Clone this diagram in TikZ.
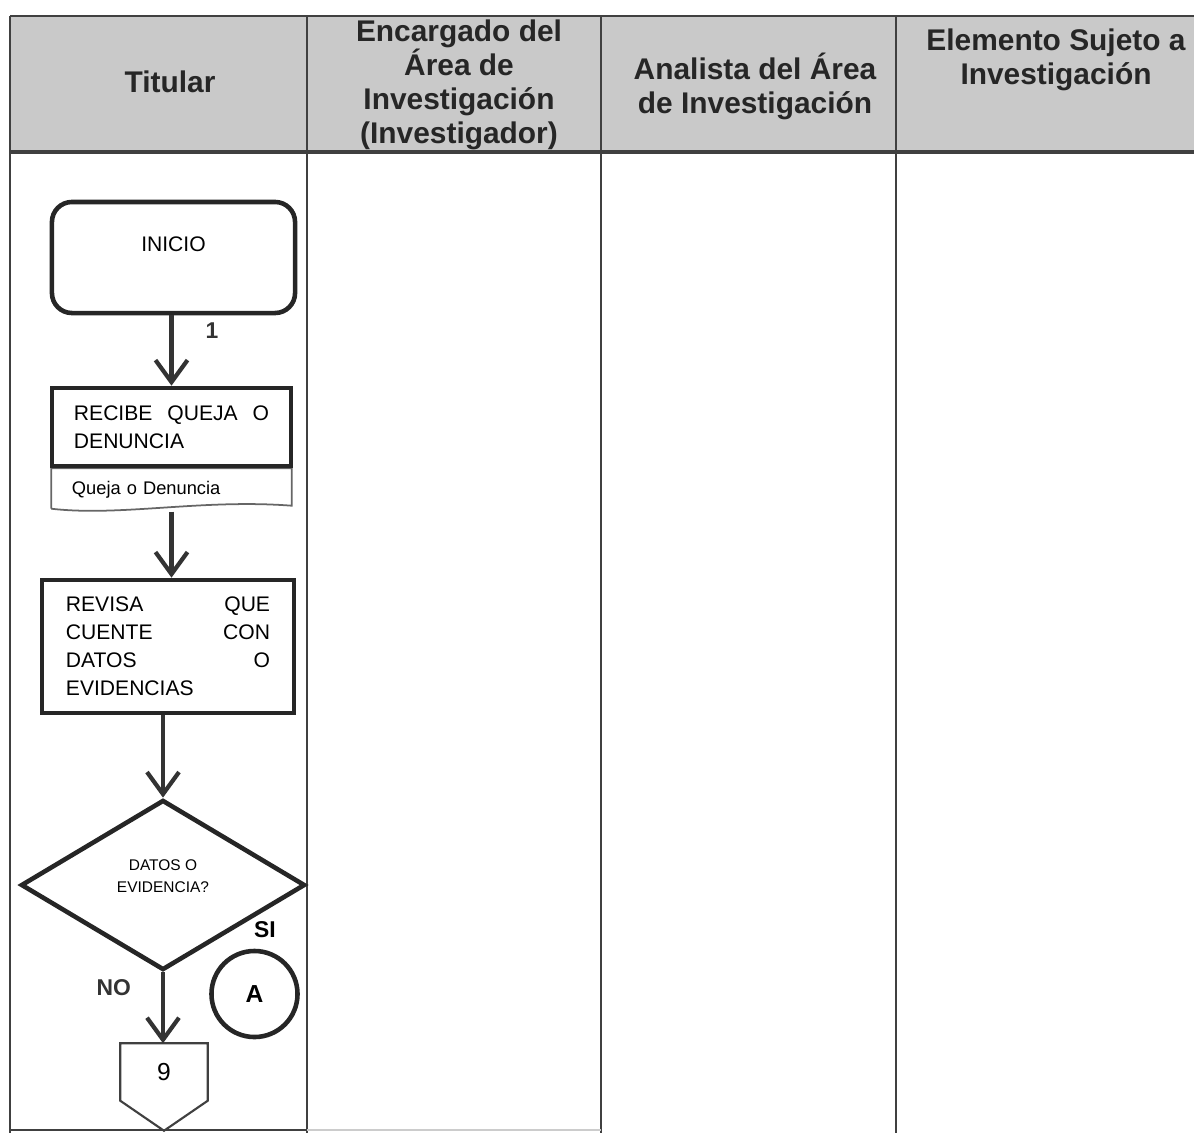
\documentclass[tikz,border=0pt]{standalone}
\usepackage{fontspec}
\setmainfont{Liberation Sans}
\usetikzlibrary{arrows.meta,shapes.geometric,positioning,calc}
\definecolor{linea}{gray}{0.25}
\definecolor{cabeza}{gray}{0.79}
\tikzset{
    encabezado/.style = {align=center,
                    text=black!85,
                    font=\fontsize{8.5}{9.7}\selectfont\bfseries,
                    inner sep=0pt},
    terminal/.style = {rectangle,
                    rounded corners=0.2cm,
                    draw=black!85,
                    line width=1.3pt,
                    font=\fontsize{6}{8}\selectfont,
                    text height=0.15cm,
                    text depth=0.28cm},
    proceso/.style = {rectangle,
                    draw=black!85,
                    line width=1.3pt,
                    align=left,
                    font=\fontsize{6}{8}\selectfont},
    documento/.style = {rectangle,
                    align=left,
                    inner ysep=0pt,
                    font=\fontsize{5.2}{6}\selectfont},
    decision/.style = {diamond,
                    draw=black!85,
                    line width=1.3pt,
                    inner sep=0pt,
                    align=center,
                    text height=0.25cm,
                    text depth=0.11cm,
                    font=\fontsize{4.4}{6}\selectfont},
    conector/.style = {circle,
                    draw=black!85,
                    line width=1.3pt,
                    inner sep=0pt,
                    minimum size=0.86cm,
                    font=\fontsize{7}{8}\selectfont\bfseries},
    paginasig/.style = {rectangle,
                    inner sep=0pt,
                    minimum width=0.86cm,
                    minimum height=0.56cm,
                    font=\fontsize{7}{8}\selectfont},
    etiqueta/.style = {inner sep=0pt,
                    font=\fontsize{6.5}{7}\selectfont\bfseries},
    flecha/.style = {black!80,
                    line width=1.2pt,
                    -{Straight Barb[length=2.2mm,width=3.2mm]}},
    borde/.style = {draw=linea,
                    line width=0.7pt}}

\begin{document}
\begin{tikzpicture}[x=0.01cm,y=-0.01cm]
\useasboundingbox (0,0) rectangle (1194,1133);

% tabla
\fill[cabeza] (10,16) rectangle (1194,152);
\draw[borde] (10,16) -- (1194,16);
\draw[borde, line width=1pt] (10,152) -- (1194,152);
\foreach \x in {10,307,601,896}
    \draw[borde] (\x,16) -- (\x,1133);
\draw[borde] (10,1130) -- (307,1130);
\draw[black!20, line width=0.5pt] (307,1130) -- (601,1130);

\node[encabezado] (hTitular)   at (170,82)  {Titular};
\node[encabezado] (hEncargado) at (459,85)  {Encargado del\\Área de\\Investigación\\(Investigador)};
\node[encabezado] (hAnalista)  at (755,86)  {Analista del Área\\de Investigación};
\node[encabezado] (hElemento)  at (1056,60) {Elemento Sujeto a\\Investigación};

% diagrama
\node[terminal, minimum width=2.43cm, minimum height=1.11cm] (inicio) at (173.5,257.5) {INICIO};
\node[documento, text width=1.99cm, inner xsep=0.2cm, minimum height=0.42cm] (queja) at (171.5,490) {Queja o Denuncia};
\draw[draw=black!60, line width=0.5pt] ($(queja.south west)+(0,-3)$) -- (queja.north west) -- (queja.north east)
    -- ($(queja.south east)+(0,-6)$)
    .. controls ($(queja.south east)+(-90,-13)$) and ($(queja.south west)+(70,5)$) .. ($(queja.south west)+(0,-3)$);
\node[proceso, text width=1.95cm, inner xsep=0.22cm, minimum height=0.78cm] (recibe) at (171.5,427)
    {RECIBE\hfill QUEJA\hfill O\\DENUNCIA};
\node[proceso, text width=2.04cm, inner xsep=0.24cm, minimum height=1.33cm] (revisa) at (168,646.5)
    {REVISA\hfill QUE\\CUENTE\hfill CON\\DATOS\hfill O\\EVIDENCIAS};
\node[decision, minimum width=2.84cm, minimum height=1.70cm] (datos) at (163,885) {DATOS O\\EVIDENCIA?};
\node[conector] (conA) at (254.5,994) {A};
\node[paginasig] (pag9) at (164,1072) {9};
\draw[draw=black!75, line width=0.6pt] (pag9.north west) -- (pag9.north east) -- (pag9.south east)
    -- ($(pag9.south)+(0,30)$) -- (pag9.south west) -- cycle;
\node[etiqueta] (si) at (265,930) {SI};

\path[flecha] (recibe.north |- inicio.south) edge node[etiqueta, pos=0.22, right=0.32cm] {1} (recibe.north)
              (queja.south) edge (queja.south |- revisa.north)
              (datos.north |- revisa.south) edge (datos.north)
              (datos.south) edge node[etiqueta, pos=0.22, left=0.3cm] {NO} (datos.south |- pag9.north);
\end{tikzpicture}
\end{document}
